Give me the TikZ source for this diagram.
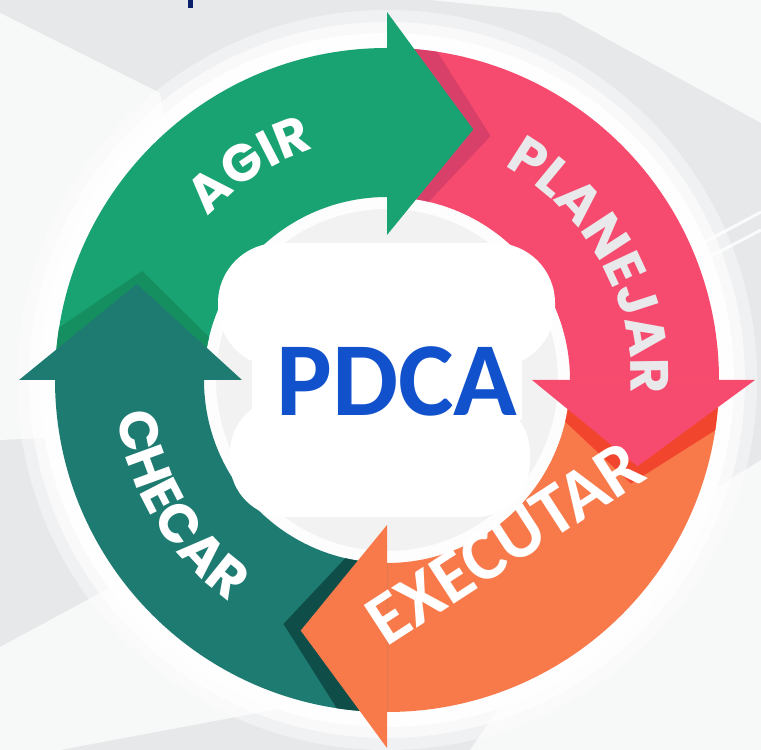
\documentclass[tikz,border=0pt]{standalone}
\usepackage{fontspec}
\usetikzlibrary{decorations.text}
\newfontfamily\ringfont{Poppins}
\newfontfamily\pdcafont{Carlito}
\definecolor{bggray}{HTML}{E7E8EA}
\definecolor{innergray}{HTML}{F2F2F3}
\definecolor{agirgreen}{HTML}{1AA372}
\definecolor{agirshade}{HTML}{168F60}
\definecolor{planpink}{HTML}{F64B6E}
\definecolor{planshade}{HTML}{D8406A}
\definecolor{planletter}{HTML}{E9E9EC}
\definecolor{execorange}{HTML}{F87A4B}
\definecolor{execshade}{HTML}{F2452E}
\definecolor{checteal}{HTML}{1E7B72}
\definecolor{checshade}{HTML}{0F4E48}
\definecolor{pdcablue}{HTML}{1152CC}
\definecolor{topnavy}{HTML}{0B1F6B}

\begin{document}
\begin{tikzpicture}[x=1pt, y=1pt,
    streak/.style={white, opacity=.7},
    arclabel/.style={decorate, decoration={text along path, text align=center, text color=#1}},
    pdcalabel/.style={pdcablue, font=\pdcafont\bfseries\fontsize{105}{105}\selectfont, inner sep=0pt},
    execlabel/.style={white, font=\pdcafont\bfseries\fontsize{73}{73}\selectfont, inner sep=0pt}]
    \useasboundingbox (0,0) rectangle (761,750);
    \fill[bggray] (0,0) rectangle (761,750);
    % background
    \fill[streak] (0,737) -- (160,657) -- (220,320) -- (0,310) -- cycle;
    \fill[streak] (0,103) -- (260,243) -- (420,110) -- (300,45) -- (60,0) -- (0,0) -- cycle;
    \fill[streak] (430,750) -- (761,750) -- (761,627) -- (560,737) -- cycle;
    \fill[streak] (470,0) -- (761,0) -- (761,290) -- (600,190) -- cycle;
    \draw[white, line width=3, opacity=.8] (690,500) -- (761,538);
    \draw[white, line width=3, opacity=.8] (700,488) -- (761,520);
    \fill[topnavy] (188,742) rectangle (193,750);
    \begin{scope}[shift={(387,370)}]
        \fill[white, opacity=.4] (0,0) circle (370);
        \fill[white, opacity=.6] (0,0) circle (358);
        \fill[white, opacity=.9] (0,0) circle (347);
        \fill[innergray] (0,0) circle (183);
        \draw[white, line width=12, opacity=.9] (0,0) circle (177);
        % bands
        \fill[agirgreen] (180:183) arc[start angle=180, end angle=90, radius=183] -- (90:332) arc[start angle=90, end angle=180, radius=332] -- cycle;
        \fill[planpink] (90:183) arc[start angle=90, end angle=0, radius=183] -- (0:332) arc[start angle=0, end angle=90, radius=332] -- cycle;
        \fill[execorange] (0:183) arc[start angle=0, end angle=-90, radius=183] -- (-90:332) arc[start angle=-90, end angle=0, radius=332] -- cycle;
        \fill[checteal] (-90:183) arc[start angle=-90, end angle=-180, radius=183] -- (-180:332) arc[start angle=-180, end angle=-90, radius=332] -- cycle;
        % shadows of the heads
        \begin{scope}[even odd rule]
            \clip (0,0) circle (332) (0,0) circle (183);
            \fill[planshade] (86:145) -- (86:368) -- (67:265) -- cycle;
            \fill[execshade] (-4:145) -- (-4:368) -- (-23:265) -- cycle;
            \fill[checshade] (-94:145) -- (-94:368) -- (-113:265) -- cycle;
            \fill[agirshade] (176:145) -- (176:368) -- (156:268) -- cycle;
        \end{scope}
    \end{scope}
    % white cloud behind the title
    \fill[white, rounded corners=60] (218,383) rectangle (555,507);
    \fill[white, rounded corners=55] (230,233) rectangle (530,352);
    \fill[white] (252,330) rectangle (522,410);
    \begin{scope}[shift={(387,370)}]
        % heads
        \fill[agirgreen] (90:145) -- (90:368) -- (71:265) -- cycle;
        \fill[planpink] (0:145) -- (0:368) -- (-19:265) -- cycle;
        \fill[execorange] (-90:145) -- (-90:368) -- (-109:265) -- cycle;
        \fill[checteal] (180:145) -- (180:368) -- (159:268) -- cycle;
        % labels
        \path[arclabel=white, decoration={text={|\ringfont\bfseries\fontsize{52}{52}\selectfont|AGIR}}]
            (150:242) arc[start angle=150, end angle=95, radius=242];
        \path[arclabel=planletter, decoration={text={|\ringfont\bfseries\fontsize{54}{54}\selectfont|PLANEJAR}}]
            (70:244) arc[start angle=70, end angle=-12, radius=244];
        \path[arclabel=white, decoration={text={|\ringfont\bfseries\fontsize{54}{54}\selectfont|CHECAR}}]
            (170:272) arc[start angle=170, end angle=252, radius=272];
    \end{scope}
    \node[pdcalabel] (pdca) at (397,369) {PDCA};
    \node[execlabel, rotate=33] (exec) at (505,207) {EXECUTAR};
\end{tikzpicture}
\end{document}
